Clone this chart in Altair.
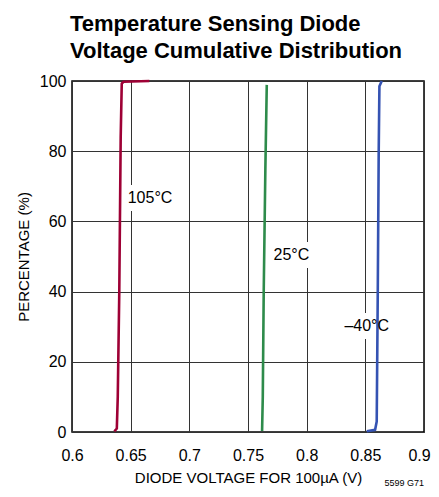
import altair as alt
import pandas as pd

# Cumulative distribution curves (diode voltage in V, cumulative percent)
red_v = [0.6361, 0.6382, 0.6390, 0.6403, 0.6415, 0.6424, 0.6440, 0.6659]
red_p = [0.2, 1.0, 10, 40, 84, 99.3, 99.8, 100]
green_v = [0.7620, 0.7626, 0.7634, 0.7648, 0.7660]
green_p = [0.3, 10, 40, 75, 98.9]
blue_v = [0.8512, 0.8583, 0.8597, 0.8606, 0.8614, 0.8620, 0.8640]
blue_p = [0.2, 0.6, 3, 40, 80, 98.5, 100]

series_names = ["105°C", "25°C", "–40°C"]
series_colors = ["#9e0035", "#2e8b4b", "#3553b3"]

label_text = ["105°C", "25°C", "–40°C"]
label_x = [0.6665, 0.787, 0.8512]
label_y = [66.7, 50.4, 30.2]
label_w = [48, 40, 42]

x_ticks = [0.6, 0.65, 0.7, 0.75, 0.8, 0.85, 0.9]
y_ticks = [0, 20, 40, 60, 80, 100]

rows = []
for name, vs, ps in zip(series_names, [red_v, green_v, blue_v], [red_p, green_p, blue_p]):
    for i, (v, p) in enumerate(zip(vs, ps)):
        rows.append({"series": name, "v": v, "p": p, "i": i})
df = pd.DataFrame(rows)
labels = pd.DataFrame({"text": label_text, "x": label_x, "y": label_y, "w": label_w})

FONT = "Liberation Sans, Arial, sans-serif"

xscale = alt.Scale(domain=[0.6, 0.9], nice=False, zero=False)
yscale = alt.Scale(domain=[0, 100], nice=False)

xaxis = alt.Axis(values=x_ticks, title="DIODE VOLTAGE FOR 100µA (V)", grid=True,
                 tickSize=0, labelPadding=15, labelFontSize=16, titleFontSize=15,
                 titleFontWeight="normal", titlePadding=7, labelFont=FONT, titleFont=FONT,
                 labelColor="black", titleColor="black", domain=False,
                 labelExpr="format(datum.value, '.2~f')",
                 labelOffset={"condition": {"test": "datum.value >= 0.89", "value": -5}, "value": 0},
                 gridColor="#333", gridWidth=1, labelFlush=False)
yaxis = alt.Axis(values=y_ticks, title="PERCENTAGE (%)", grid=True, tickSize=0,
                 labelPadding=6, labelFontSize=16, titleFontSize=15, titleFontWeight="normal",
                 titlePadding=8, labelFont=FONT, titleFont=FONT, labelColor="black",
                 titleColor="black", domain=False, gridColor="#333", gridWidth=1,
                 labelFlush=False)

base_lines = alt.Chart(df).mark_line(strokeWidth=2.6, strokeJoin="round").encode(
    x=alt.X("v:Q", scale=xscale, axis=xaxis),
    y=alt.Y("p:Q", scale=yscale, axis=yaxis),
    color=alt.Color("series:N", scale=alt.Scale(domain=series_names, range=series_colors), legend=None),
    order="i:O",
    detail="series:N",
)

box_layers = []
for t, w in zip(label_text, label_w):
    box_layers.append(
        alt.Chart(labels).transform_filter(alt.datum.text == t)
        .mark_rect(color="white", width=w, height=26)
        .encode(x=alt.X("x:Q", scale=xscale), y=alt.Y("y:Q", scale=yscale))
    )

texts = alt.Chart(labels).mark_text(fontSize=16, font=FONT, color="black", align="center",
                                    baseline="middle").encode(
    x=alt.X("x:Q", scale=xscale),
    y=alt.Y("y:Q", scale=yscale),
    text="text:N",
)

code_df = pd.DataFrame({"t": ["5599 G71"], "x": [0.9], "y": [-14.6]})
code = alt.Chart(code_df).mark_text(fontSize=9, font=FONT, color="black", align="right",
                                    baseline="middle", clip=False).encode(
    x=alt.X("x:Q", scale=xscale),
    y=alt.Y("y:Q", scale=yscale),
    text="t:N",
)

chart = alt.layer(*box_layers, base_lines, texts, code).properties(
    width=352,
    height=351,
    autosize=alt.AutoSizeParams(type="none"),
    padding={"left": 64, "top": 73, "right": 7, "bottom": 56},
    title=alt.TitleParams(
        text=["Temperature Sensing Diode", "Voltage Cumulative Distribution"],
        anchor="start", frame="group", fontSize=22, font="Liberation Sans, Arial, sans-serif",
        fontWeight="bold", lineHeight=27.5, offset=10, dx=-2, color="black",
    ),
).configure_view(stroke="black", strokeWidth=1.5)

chart.save("out.html", embed_options={"renderer": "svg", "actions": False})
